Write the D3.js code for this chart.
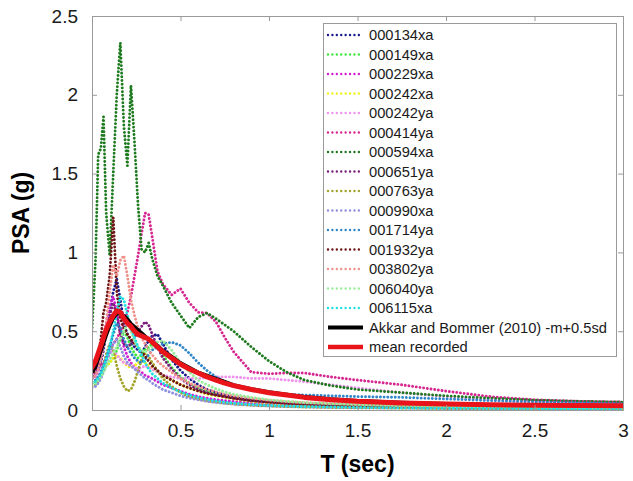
<!DOCTYPE html>
<html>
<head>
<meta charset="utf-8">
<script src="https://cdn.jsdelivr.net/npm/d3@7"></script>
<style>
  html, body { margin: 0; padding: 0; background: #fff; }
  svg { display: block; font-family: "Liberation Sans", Arial, sans-serif; }
</style>
</head>
<body>
<svg id="chart" width="633" height="481"></svg>
<script>
// Spectral periods (s) shared by every spectrum
const periods = [0, 0.02, 0.035, 0.05, 0.065, 0.08, 0.1, 0.12, 0.14, 0.16, 0.18, 0.2, 0.22, 0.24, 0.26, 0.28, 0.3, 0.32, 0.34, 0.37, 0.4, 0.45, 0.5, 0.55, 0.6, 0.65, 0.7, 0.75, 0.8, 0.9, 1.0, 1.1, 1.2, 1.35, 1.5, 1.75, 2.0, 2.25, 2.5, 2.75, 3.0];

// Recorded spectra, PSA (g)
const rec000134xa = [0.20,0.22,0.25,0.30,0.38,0.50,0.62,0.75,0.83,0.70,0.55,0.48,0.42,0.40,0.38,0.36,0.40,0.44,0.47,0.48,0.42,0.32,0.25,0.20,0.16,0.13,0.11,0.095,0.08,0.06,0.05,0.045,0.04,0.035,0.03,0.025,0.02,0.018,0.016,0.015,0.014];
const rec000149xa = [0.17,0.18,0.20,0.22,0.25,0.28,0.30,0.33,0.38,0.45,0.50,0.46,0.40,0.36,0.33,0.35,0.38,0.40,0.42,0.40,0.35,0.27,0.21,0.17,0.14,0.12,0.10,0.085,0.075,0.06,0.05,0.04,0.035,0.03,0.025,0.02,0.016,0.014,0.012,0.011,0.010];
const rec000229xa = [0.22,0.24,0.28,0.35,0.45,0.55,0.66,0.72,0.62,0.50,0.40,0.34,0.30,0.27,0.25,0.24,0.22,0.21,0.20,0.18,0.16,0.14,0.12,0.10,0.085,0.075,0.065,0.06,0.055,0.045,0.038,0.032,0.028,0.024,0.02,0.016,0.013,0.011,0.010,0.009,0.008];
const rec000242xa = [0.17,0.18,0.20,0.22,0.25,0.28,0.30,0.33,0.35,0.33,0.30,0.28,0.27,0.28,0.30,0.31,0.30,0.28,0.26,0.24,0.22,0.19,0.16,0.14,0.12,0.10,0.09,0.08,0.07,0.055,0.045,0.038,0.032,0.027,0.022,0.018,0.015,0.013,0.011,0.010,0.009];
const rec000242ya = [0.20,0.21,0.23,0.26,0.30,0.33,0.36,0.38,0.35,0.32,0.30,0.29,0.28,0.27,0.26,0.27,0.28,0.27,0.26,0.24,0.22,0.21,0.20,0.20,0.20,0.205,0.21,0.21,0.21,0.20,0.20,0.19,0.18,0.16,0.14,0.11,0.085,0.065,0.055,0.045,0.04];
const rec000414ya = [0.30,0.32,0.30,0.28,0.30,0.33,0.38,0.42,0.45,0.50,0.55,0.62,0.72,0.85,0.98,1.12,1.25,1.24,1.10,0.88,0.80,0.73,0.77,0.68,0.62,0.615,0.56,0.46,0.37,0.24,0.23,0.235,0.235,0.21,0.19,0.16,0.12,0.085,0.065,0.055,0.05];
const rec000594xa = [0.50,0.95,1.62,1.66,1.86,1.25,0.98,1.50,2.00,2.33,1.80,1.55,2.06,1.70,1.30,1.02,1.00,1.06,0.96,0.85,0.79,0.68,0.60,0.52,0.59,0.615,0.58,0.54,0.50,0.40,0.31,0.24,0.19,0.155,0.13,0.11,0.09,0.075,0.062,0.055,0.05];
const rec000651ya = [0.20,0.22,0.26,0.32,0.40,0.50,0.60,0.68,0.60,0.48,0.42,0.40,0.42,0.46,0.50,0.53,0.56,0.54,0.48,0.40,0.33,0.26,0.20,0.16,0.13,0.11,0.095,0.085,0.075,0.06,0.05,0.042,0.036,0.03,0.025,0.02,0.017,0.015,0.013,0.012,0.011];
const rec000763ya = [0.15,0.16,0.18,0.22,0.28,0.35,0.42,0.38,0.28,0.20,0.15,0.12,0.13,0.18,0.25,0.32,0.36,0.34,0.30,0.25,0.20,0.15,0.11,0.085,0.07,0.058,0.05,0.043,0.038,0.03,0.025,0.021,0.018,0.015,0.013,0.011,0.009,0.008,0.007,0.006,0.006];
const rec000990xa = [0.14,0.15,0.17,0.20,0.24,0.30,0.36,0.42,0.45,0.40,0.34,0.30,0.28,0.26,0.24,0.22,0.20,0.19,0.17,0.15,0.13,0.11,0.09,0.075,0.065,0.055,0.048,0.042,0.037,0.03,0.025,0.022,0.019,0.016,0.014,0.012,0.01,0.009,0.008,0.007,0.007];
const rec001714ya = [0.18,0.19,0.21,0.24,0.28,0.33,0.40,0.48,0.55,0.52,0.45,0.40,0.36,0.33,0.31,0.30,0.32,0.35,0.38,0.40,0.42,0.43,0.41,0.36,0.30,0.25,0.21,0.18,0.16,0.13,0.115,0.10,0.095,0.09,0.085,0.08,0.07,0.06,0.05,0.045,0.04];
const rec001932ya = [0.22,0.26,0.33,0.45,0.62,0.68,0.85,1.22,0.75,0.58,0.52,0.48,0.45,0.42,0.40,0.37,0.34,0.31,0.28,0.25,0.22,0.19,0.16,0.14,0.12,0.105,0.095,0.085,0.075,0.06,0.05,0.042,0.037,0.031,0.027,0.022,0.019,0.017,0.015,0.014,0.013];
const rec003802ya = [0.20,0.22,0.26,0.32,0.42,0.55,0.75,0.92,0.85,0.95,0.98,0.85,0.70,0.60,0.52,0.46,0.42,0.38,0.35,0.31,0.28,0.24,0.20,0.17,0.15,0.13,0.115,0.10,0.09,0.075,0.062,0.053,0.046,0.04,0.035,0.028,0.023,0.02,0.018,0.016,0.015];
const rec006040ya = [0.16,0.17,0.19,0.21,0.24,0.28,0.32,0.36,0.40,0.45,0.50,0.55,0.50,0.44,0.40,0.38,0.37,0.38,0.40,0.43,0.44,0.38,0.30,0.24,0.19,0.16,0.135,0.115,0.10,0.08,0.065,0.055,0.047,0.04,0.034,0.027,0.022,0.019,0.017,0.015,0.014];
const rec006115xa = [0.17,0.18,0.20,0.23,0.27,0.32,0.40,0.50,0.62,0.72,0.70,0.60,0.52,0.46,0.40,0.35,0.30,0.26,0.23,0.20,0.17,0.14,0.115,0.095,0.08,0.068,0.058,0.05,0.044,0.035,0.029,0.025,0.022,0.019,0.016,0.013,0.011,0.01,0.009,0.008,0.008];

// Akkar and Bommer (2010) median + 0.5 sigma, and mean of the records
const akkarBommer = [0.24,0.27,0.32,0.37,0.42,0.47,0.53,0.58,0.61,0.61,0.60,0.58,0.55,0.53,0.51,0.49,0.47,0.45,0.43,0.41,0.38,0.34,0.30,0.27,0.24,0.22,0.20,0.18,0.16,0.135,0.115,0.10,0.085,0.07,0.06,0.048,0.04,0.035,0.031,0.029,0.027];
const meanRecorded = [0.27,0.31,0.36,0.41,0.46,0.51,0.56,0.60,0.63,0.62,0.58,0.55,0.53,0.50,0.48,0.47,0.46,0.45,0.43,0.40,0.37,0.33,0.29,0.26,0.235,0.21,0.19,0.17,0.155,0.13,0.11,0.095,0.08,0.065,0.055,0.045,0.038,0.033,0.03,0.028,0.027];

const recordNames = ["000134xa","000149xa","000229xa","000242xa","000242ya","000414ya","000594xa","000651ya","000763ya","000990xa","001714ya","001932ya","003802ya","006040ya","006115xa"];
const recordValues = [rec000134xa,rec000149xa,rec000229xa,rec000242xa,rec000242ya,rec000414ya,rec000594xa,rec000651ya,rec000763ya,rec000990xa,rec001714ya,rec001932ya,rec003802ya,rec006040ya,rec006115xa];
const recordColors = ["#1a1a8c","#3ee63e","#d21fd2","#f2f21a","#ee92ee","#d6268f","#1e7a1e","#7a1f7a","#a3a32a","#8f8fe0","#2f86c8","#6e1414","#f0908a","#98ee98","#22e0e0"];

const xTicks = [0, 0.5, 1, 1.5, 2, 2.5, 3];
const yTicks = [0, 0.5, 1, 1.5, 2, 2.5];

const svg = d3.select("#chart");
const m = { left: 92, right: 623, top: 16, bottom: 410 };

const x = d3.scaleLinear().domain([0, 3]).range([m.left, m.right]);
const y = d3.scaleLinear().domain([0, 2.5]).range([m.bottom, m.top]);

const axisColor = "#9a9a9a";

svg.append("defs").append("clipPath").attr("id", "plotClip")
  .append("rect").attr("x", m.left).attr("y", m.top)
  .attr("width", m.right - m.left).attr("height", m.bottom - m.top);

// Spectra
const line = d3.line().x((d, i) => x(periods[i])).y(d => y(d));
const plot = svg.append("g").attr("clip-path", "url(#plotClip)");

recordValues.forEach((vals, k) => {
  plot.append("path").datum(vals)
    .attr("d", line)
    .attr("fill", "none")
    .attr("stroke", recordColors[k])
    .attr("stroke-width", 2.9)
    .attr("stroke-linecap", "round")
    .attr("stroke-dasharray", "0.01 3.7");
});

plot.append("path").datum(akkarBommer)
  .attr("d", line).attr("fill", "none")
  .attr("stroke", "#000").attr("stroke-width", 3.2)
  .attr("stroke-linejoin", "round");

plot.append("path").datum(meanRecorded)
  .attr("d", line).attr("fill", "none")
  .attr("stroke", "#e8141a").attr("stroke-width", 5)
  .attr("stroke-linejoin", "round").attr("stroke-linecap", "round");

// Axes (boxed, ticks pointing inward)
const tickStyle = g => {
  g.select(".domain").attr("stroke", axisColor);
  g.selectAll(".tick line").attr("stroke", axisColor);
  g.selectAll(".tick text").attr("fill", "#1a1a1a").style("font-size", "19px")
    .style("font-family", "'Liberation Sans', Arial, sans-serif");
};

svg.append("g").attr("transform", `translate(0,${m.bottom})`)
  .call(d3.axisBottom(x).tickValues(xTicks).tickFormat(d3.format("~g")).tickSizeInner(-5).tickSizeOuter(0).tickPadding(14))
  .call(tickStyle);
svg.append("g").attr("transform", `translate(0,${m.top})`)
  .call(d3.axisTop(x).tickValues(xTicks).tickFormat("").tickSizeInner(-5).tickSizeOuter(0))
  .call(tickStyle);
svg.append("g").attr("transform", `translate(${m.left},0)`)
  .call(d3.axisLeft(y).tickValues(yTicks).tickFormat(d3.format("~g")).tickSizeInner(-5).tickSizeOuter(0).tickPadding(14))
  .call(tickStyle);
svg.append("g").attr("transform", `translate(${m.right},0)`)
  .call(d3.axisRight(y).tickValues(yTicks).tickFormat("").tickSizeInner(-5).tickSizeOuter(0))
  .call(tickStyle);

// Axis titles
svg.append("text")
  .attr("x", (m.left + m.right) / 2).attr("y", 472)
  .attr("text-anchor", "middle")
  .style("font-size", "23px").style("font-weight", "bold").attr("fill", "#000")
  .text("T (sec)");
svg.append("text")
  .attr("transform", `translate(29,${(m.top + m.bottom) / 2}) rotate(-90)`)
  .attr("text-anchor", "middle")
  .style("font-size", "23px").style("font-weight", "bold").attr("fill", "#000")
  .text("PSA (g)");

// Legend
const legendNames = recordNames.concat(["Akkar and Bommer (2010) -m+0.5sd", "mean recorded"]);
const legendColors = recordColors.concat(["#000", "#e8141a"]);
const lg = svg.append("g");
lg.append("rect").attr("x", 323.5).attr("y", 23.5).attr("width", 293).attr("height", 333)
  .attr("fill", "#fff").attr("stroke", axisColor).attr("stroke-width", 1);

legendNames.forEach((name, i) => {
  const yy = 35 + i * 19.5;
  const isRecord = i < recordNames.length;
  lg.append("line")
    .attr("x1", 328).attr("x2", 363).attr("y1", yy).attr("y2", yy)
    .attr("stroke", legendColors[i])
    .attr("stroke-width", isRecord ? 2.4 : (i === legendNames.length - 1 ? 4.5 : 4))
    .attr("stroke-linecap", isRecord ? "round" : "butt")
    .attr("stroke-dasharray", isRecord ? "0.01 4.4" : null);
  lg.append("text")
    .attr("x", 369).attr("y", yy).attr("dy", "0.35em")
    .style("font-size", "14.7px").attr("fill", "#1a1a1a")
    .text(name);
});
</script>
</body>
</html>
